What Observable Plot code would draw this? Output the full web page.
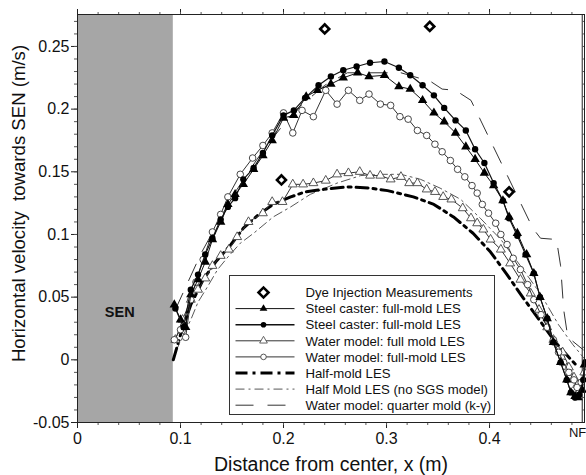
<!DOCTYPE html>
<html>
<head>
<meta charset="utf-8">
<script src="https://cdn.jsdelivr.net/npm/d3@7"></script>
<script src="https://cdn.jsdelivr.net/npm/@observablehq/plot@0.6"></script>
<style>
  html, body { margin: 0; padding: 0; background: #fff; }
  #chart { position: relative; width: 586px; height: 475px; font-family: "Liberation Sans", Arial, sans-serif; }
  #legend { position: absolute; left: 0; top: 0; pointer-events: none; }
</style>
</head>
<body>
<div id="chart"></div>
<script>
// ---- Data ----
const dyeMeasurements = [[0.198, 0.1435], [0.240, 0.264], [0.342, 0.266], [0.419, 0.134]];

const steelTriangles = [
  [0.094,0.044],[0.100,0.032],[0.105,0.026],[0.110,0.052],[0.117,0.064],[0.124,0.078],[0.131,0.096],
  [0.139,0.110],[0.146,0.124],[0.153,0.132],[0.161,0.140],[0.171,0.152],[0.180,0.163],[0.189,0.175],
  [0.200,0.193],[0.210,0.195],[0.222,0.210],[0.233,0.215],[0.246,0.220],[0.258,0.225],[0.272,0.229],
  [0.283,0.226],[0.298,0.227],[0.312,0.218],[0.323,0.216],[0.335,0.207],[0.346,0.197],[0.356,0.190],
  [0.367,0.181],[0.377,0.170],[0.386,0.160],[0.395,0.149],[0.404,0.139],[0.413,0.127],[0.419,0.114],
  [0.427,0.101],[0.436,0.084],[0.443,0.069],[0.449,0.050],[0.456,0.033],[0.462,0.014],[0.469,-0.002],
  [0.475,-0.016],[0.479,-0.026],[0.483,-0.029],[0.486,-0.030],[0.490,-0.024],[0.492,-0.004]
];

const steelCircles = [
  [0.095,0.041],[0.103,0.026],[0.110,0.056],[0.117,0.068],[0.124,0.084],[0.131,0.097],[0.139,0.112],
  [0.146,0.122],[0.153,0.129],[0.161,0.144],[0.171,0.153],[0.180,0.165],[0.189,0.179],[0.200,0.195],
  [0.210,0.199],[0.221,0.209],[0.234,0.219],[0.246,0.226],[0.258,0.231],[0.271,0.234],[0.284,0.237],
  [0.298,0.238],[0.312,0.233],[0.323,0.227],[0.335,0.219],[0.346,0.211],[0.356,0.201],[0.367,0.191],
  [0.377,0.183],[0.386,0.168],[0.395,0.157],[0.404,0.141],[0.413,0.127],[0.419,0.113],[0.427,0.099],
  [0.435,0.084],[0.443,0.069],[0.449,0.050],[0.456,0.033],[0.462,0.014],[0.469,-0.002],[0.475,-0.016],
  [0.479,-0.026],[0.483,-0.030],[0.487,-0.028],[0.491,-0.016],[0.493,-0.002]
];

const waterTriangles = [
  [0.095,0.016],[0.102,0.032],[0.110,0.048],[0.117,0.056],[0.124,0.065],[0.131,0.075],[0.139,0.083],
  [0.147,0.088],[0.155,0.098],[0.166,0.110],[0.180,0.117],[0.189,0.126],[0.199,0.126],[0.209,0.140],
  [0.219,0.140],[0.229,0.141],[0.241,0.143],[0.252,0.148],[0.263,0.149],[0.274,0.150],[0.284,0.147],
  [0.294,0.147],[0.304,0.144],[0.314,0.146],[0.322,0.141],[0.330,0.141],[0.339,0.136],[0.347,0.134],
  [0.355,0.130],[0.363,0.128],[0.374,0.121],[0.382,0.113],[0.388,0.109],[0.394,0.104],[0.401,0.096],
  [0.411,0.088],[0.420,0.077],[0.430,0.064],[0.440,0.053],[0.448,0.040],[0.456,0.026],[0.462,0.016],
  [0.471,0.006],[0.477,-0.006],[0.482,-0.014],[0.485,-0.020],[0.488,-0.024],[0.492,-0.010]
];

const waterCircles = [
  [0.094,0.016],[0.100,0.024],[0.105,0.018],[0.110,0.048],[0.115,0.062],[0.122,0.080],[0.131,0.102],
  [0.139,0.116],[0.146,0.130],[0.158,0.148],[0.170,0.161],[0.180,0.171],[0.189,0.181],[0.200,0.197],
  [0.209,0.181],[0.218,0.199],[0.229,0.194],[0.241,0.215],[0.252,0.204],[0.263,0.215],[0.274,0.207],
  [0.283,0.212],[0.294,0.204],[0.304,0.203],[0.313,0.194],[0.321,0.192],[0.330,0.183],[0.339,0.179],
  [0.347,0.172],[0.354,0.166],[0.362,0.159],[0.369,0.152],[0.376,0.146],[0.383,0.139],[0.388,0.133],
  [0.393,0.124],[0.399,0.117],[0.406,0.109],[0.411,0.100],[0.417,0.092],[0.423,0.081],[0.430,0.072],
  [0.437,0.060],[0.443,0.048],[0.450,0.036],[0.456,0.026],[0.462,0.016],[0.467,0.006],[0.472,-0.002],
  [0.477,-0.010],[0.482,-0.016],[0.485,-0.022],[0.489,-0.018]
];

const halfMold = [
  [0.093,0.000],[0.100,0.020],[0.110,0.044],[0.122,0.064],[0.134,0.078],[0.149,0.092],[0.161,0.105],
  [0.176,0.116],[0.190,0.124],[0.207,0.130],[0.221,0.134],[0.239,0.136],[0.262,0.138],[0.284,0.137],
  [0.301,0.135],[0.326,0.130],[0.346,0.124],[0.365,0.114],[0.384,0.101],[0.401,0.086],[0.417,0.068],
  [0.433,0.049],[0.450,0.030],[0.464,0.014],[0.477,0.002],[0.485,-0.005]
];

const halfMoldNoSGS = [
  [0.095,0.006],[0.103,0.020],[0.110,0.032],[0.117,0.046],[0.126,0.058],[0.136,0.072],[0.146,0.082],
  [0.158,0.093],[0.171,0.101],[0.190,0.114],[0.207,0.122],[0.226,0.132],[0.252,0.141],[0.275,0.147],
  [0.294,0.148],[0.314,0.148],[0.333,0.144],[0.352,0.137],[0.372,0.128],[0.391,0.113],[0.411,0.096],
  [0.430,0.075],[0.450,0.052],[0.467,0.028],[0.481,0.012],[0.493,0.000]
];

const quarterMold = [
  [0.095,0.040],[0.120,0.085],[0.150,0.130],[0.180,0.167],[0.210,0.198],[0.240,0.219],[0.262,0.229],
  [0.314,0.229],[0.343,0.222],[0.354,0.216],[0.367,0.215],[0.382,0.207],[0.442,0.105],[0.4495,0.097],
  [0.465,0.096],[0.469,0.075],[0.472,0.040],[0.476,0.018],[0.491,0.008]
];

const senEdge = 0.093;               // SEN nozzle wall (m)
const senLabel = [{x: 0.041, y: 0.0375, text: "SEN"}];
const xMajorTicks = [0, 0.1, 0.2, 0.3, 0.4];
const xMinorTicks = d3.range(0.02, 0.49, 0.02);
const nfTick = 0.49;
const nfLabel = "NF";
const yMajorTicks = [-0.05, 0, 0.05, 0.1, 0.15, 0.2, 0.25];
const yMinorTicks = d3.range(-4, 28).map(i => i / 100);
const xTitle = "Distance from center, x (m)";
const yTitle = "Horizontal velocity  towards SEN (m/s)";
const legendLabels = [
  "Dye Injection Measurements",
  "Steel caster: full-mold LES",
  "Steel caster: full-mold LES",
  "Water model: full mold LES",
  "Water model: full-mold LES",
  "Half-mold LES",
  "Half Mold LES (no SGS model)",
  "Water model: quarter mold (k-\u03B3)"
];

// ---- Chart ----
const fmt = d => String(+d.toFixed(3));
const P = a => a.map(([x, y]) => ({x, y}));
const FONT = "'Liberation Sans', Arial, sans-serif";

const chart = Plot.plot({
  width: 586,
  height: 475,
  marginLeft: 77,
  marginRight: 2,
  marginTop: 14,
  marginBottom: 53,
  x: {domain: [0, 0.4922]},
  y: {domain: [-0.05, 0.2755]},
  style: {fontFamily: FONT, color: "#111", background: "white"},
  marks: [
    Plot.rect([{x1: 0, x2: senEdge}], {x1: "x1", x2: "x2", fill: "#a6a6a6"}),
    Plot.text(senLabel, {x: "x", y: "y", text: "text", fontSize: 14.5, fontWeight: "bold", fill: "#111"}),

    // axes
    Plot.axisX({ticks: xMajorTicks, tickSize: 6, tickPadding: 4, tickFormat: fmt, fontSize: 16, label: null, stroke: "#222"}),
    Plot.axisX({ticks: xMinorTicks, tickSize: 3, tickFormat: () => "", label: null, stroke: "#555"}),
    Plot.tickX([nfTick], {x: d => d, y1: -0.05, y2: -0.05, stroke: "#222"}),
    Plot.text([nfTick], {x: d => d, frameAnchor: "bottom", text: () => nfLabel, textAnchor: "end", lineAnchor: "top", dx: 4, dy: 5, fontSize: 13, fill: "#111"}),
    Plot.axisX({anchor: "top", ticks: xMajorTicks, tickSize: 6, tickFormat: () => "", label: null, stroke: "#222"}),
    Plot.axisX({anchor: "top", ticks: xMinorTicks, tickSize: 3, tickFormat: () => "", label: null, stroke: "#555"}),
    Plot.axisY({ticks: yMajorTicks, tickSize: 6, tickPadding: 2, tickFormat: fmt, fontSize: 16, label: null, stroke: "#222"}),
    Plot.axisY({ticks: yMinorTicks, tickSize: 3, tickFormat: () => "", label: null, stroke: "#555"}),
    Plot.axisY({anchor: "right", ticks: yMinorTicks, tickSize: -3, tickFormat: () => "", label: null, stroke: "#555"}),
    Plot.text([xTitle], {text: d => d, frameAnchor: "bottom", textAnchor: "middle", lineAnchor: "middle", dy: 42, fontSize: 19.5, fill: "#111"}),
    Plot.text([yTitle], {text: d => d, frameAnchor: "left", textAnchor: "middle", lineAnchor: "middle", dx: -58, dy: -15, rotate: -90, fontSize: 18.6, fill: "#111"}),

    // model curves without markers
    Plot.line(P(quarterMold), {x: "x", y: "y", stroke: "#333", strokeWidth: 1, strokeDasharray: "18,14"}),
    Plot.line(P(halfMoldNoSGS), {x: "x", y: "y", stroke: "#444", strokeWidth: 0.9, strokeDasharray: "9,4,2,4"}),
    Plot.line(P(halfMold), {x: "x", y: "y", stroke: "#000", strokeWidth: 3, strokeDasharray: "12,5,3,5"}),

    // curves with markers
    Plot.line(P(waterTriangles), {x: "x", y: "y", stroke: "#333", strokeWidth: 1}),
    Plot.dot(P(waterTriangles), {x: "x", y: "y", symbol: "triangle", r: 3.3, fill: "white", stroke: "#444", strokeWidth: 0.9}),
    Plot.line(P(waterCircles), {x: "x", y: "y", stroke: "#333", strokeWidth: 1}),
    Plot.dot(P(waterCircles), {x: "x", y: "y", r: 3.3, fill: "white", stroke: "#333", strokeWidth: 0.9}),
    Plot.line(P(steelTriangles), {x: "x", y: "y", stroke: "#111", strokeWidth: 1}),
    Plot.dot(P(steelTriangles), {x: "x", y: "y", symbol: "triangle", r: 3.5, fill: "#000", stroke: "none"}),
    Plot.line(P(steelCircles), {x: "x", y: "y", stroke: "#111", strokeWidth: 1.2}),
    Plot.dot(P(steelCircles), {x: "x", y: "y", r: 3.2, fill: "#000", stroke: "none"}),

    // measurements
    Plot.dot(P(dyeMeasurements), {x: "x", y: "y", symbol: "square", r: 3.6, rotate: 45, fill: "white", stroke: "#000", strokeWidth: 2.6}),

    Plot.frame({stroke: "#222", strokeWidth: 1})
  ]
});

const root = document.getElementById("chart");
root.appendChild(chart);

// ---- Legend (inside plot area, lower middle) ----
const lg = d3.select(root).append("svg")
  .attr("id", "legend").attr("width", 586).attr("height", 475)
  .style("font-family", FONT);
const box = {x: 229.5, y: 275.5, w: 265, h: 139};
lg.append("rect").attr("x", box.x).attr("y", box.y).attr("width", box.w).attr("height", box.h)
  .attr("fill", "white").attr("stroke", "#333").attr("stroke-width", 1);
const rowY = i => box.y + 17 + i * 16.1;
const lineX1 = box.x + 6, lineX2 = box.x + 65, markX = box.x + 34, textX = box.x + 76;
const styles = [
  {line: null, mark: "diamond"},
  {line: {w: 1, dash: null, c: "#111"}, mark: "triFill"},
  {line: {w: 1.4, dash: null, c: "#111"}, mark: "circFill"},
  {line: {w: 1, dash: null, c: "#333"}, mark: "triOpen"},
  {line: {w: 1, dash: null, c: "#333"}, mark: "circOpen"},
  {line: {w: 3, dash: "12,5,3,5", c: "#000"}, mark: null},
  {line: {w: 0.9, dash: "9,4,2,4", c: "#444"}, mark: null},
  {line: {w: 1, dash: "18,14", c: "#333"}, mark: null}
];
styles.forEach((s, i) => {
  const y = rowY(i);
  if (s.line) {
    lg.append("line").attr("x1", lineX1).attr("x2", lineX2).attr("y1", y).attr("y2", y)
      .attr("stroke", s.line.c).attr("stroke-width", s.line.w)
      .attr("stroke-dasharray", s.line.dash);
  }
  const sym = {
    diamond: () => lg.append("path").attr("d", d3.symbol(d3.symbolSquare, 50)()).attr("transform", `translate(${markX},${y}) rotate(45)`)
      .attr("fill", "white").attr("stroke", "#000").attr("stroke-width", 2.6),
    triFill: () => lg.append("path").attr("d", d3.symbol(d3.symbolTriangle, 26)()).attr("transform", `translate(${markX},${y})`).attr("fill", "#000"),
    circFill: () => lg.append("circle").attr("cx", markX).attr("cy", y).attr("r", 2.8).attr("fill", "#000"),
    triOpen: () => lg.append("path").attr("d", d3.symbol(d3.symbolTriangle, 26)()).attr("transform", `translate(${markX},${y})`).attr("fill", "white").attr("stroke", "#555").attr("stroke-width", 0.9),
    circOpen: () => lg.append("circle").attr("cx", markX).attr("cy", y).attr("r", 2.8).attr("fill", "white").attr("stroke", "#444").attr("stroke-width", 0.9)
  };
  if (s.mark) sym[s.mark]();
  lg.append("text").attr("x", textX).attr("y", y).attr("dy", "0.36em")
    .attr("font-size", 13.2).attr("fill", "#111").text(legendLabels[i]);
});
</script>
</body>
</html>
